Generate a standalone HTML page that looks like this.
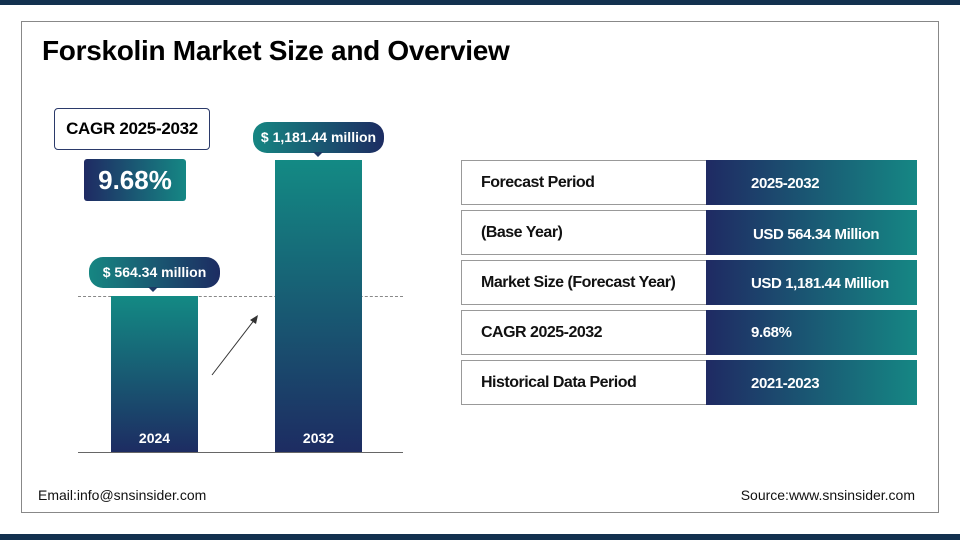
<!DOCTYPE html><html><head><style>
body{margin:0;width:960px;height:540px;background:#fff;position:relative;font-family:"Liberation Sans",sans-serif;overflow:hidden}
.a{position:absolute}
.g{background:linear-gradient(90deg,#1f2a63,#158784)}
.gv{background:linear-gradient(180deg,#138a84,#1d2c62)}
.pill{position:absolute;color:#fff;font-weight:bold;font-size:14px;text-align:center;border-radius:14px;background:linear-gradient(90deg,#168682,#1d2c62)}
.row{position:absolute;left:461px;width:456px;height:45px;border:1px solid #999;box-sizing:border-box}
.row .l{position:absolute;left:19px;top:13px;font-size:16px;font-weight:bold;color:#111;letter-spacing:-0.5px}
.row .r{position:absolute;left:244px;top:-1px;right:-1px;bottom:-1px;background:linear-gradient(90deg,#1f2a63,#158784);color:#fff;font-weight:bold;font-size:15px;letter-spacing:-0.4px}
</style></head><body>
<div class="a" style="left:0;top:0;width:960px;height:5px;background:#13314f"></div>
<div class="a" style="left:0;top:534px;width:960px;height:6px;background:#13314f"></div>
<div class="a" style="left:21px;top:21px;width:916px;height:490px;border:1px solid #888"></div>
<div class="a" style="left:42px;top:35px;font-size:28px;font-weight:bold;color:#000;letter-spacing:-0.3px">Forskolin Market Size and Overview</div>
<div class="a" style="left:54px;top:108px;width:156px;height:42px;border:1px solid #2b3a6a;border-radius:4px;box-sizing:border-box;font-size:17px;font-weight:bold;text-align:center;line-height:40px;letter-spacing:-0.3px">CAGR 2025-2032</div>
<div class="a g" style="left:84px;top:159px;width:102px;height:42px;border-radius:3px;color:#fff;font-size:26px;font-weight:bold;text-align:center;line-height:42px">9.68%</div>
<div class="a" style="left:78px;top:296px;width:325px;border-top:1px dashed #888"></div>
<div class="a gv" style="left:111px;top:296px;width:87px;height:156px"></div>
<div class="a gv" style="left:275px;top:160px;width:87px;height:292px"></div>
<div class="a" style="left:78px;top:452px;width:325px;border-top:1px solid #666"></div>
<div class="a" style="left:111px;top:430px;width:87px;text-align:center;color:#fff;font-weight:bold;font-size:14px">2024</div>
<div class="a" style="left:275px;top:430px;width:87px;text-align:center;color:#fff;font-weight:bold;font-size:14px">2032</div>
<div class="pill" style="left:89px;top:257px;width:131px;height:31px;line-height:31px">$ 564.34 million</div>
<div class="a" style="left:148px;top:287px;border:5px solid transparent;border-top-color:#1d3a66;border-bottom:0"></div>
<div class="pill" style="left:253px;top:122px;width:131px;height:31px;line-height:31px">$ 1,181.44 million</div>
<div class="a" style="left:313px;top:152px;border:5px solid transparent;border-top-color:#1d3a66;border-bottom:0"></div>
<svg class="a" style="left:200px;top:305px" width="70" height="80"><line x1="12" y1="70" x2="55" y2="14" stroke="#333" stroke-width="1"/><polygon points="58,10 50,15 56,19" fill="#333"/></svg>
<div class="row" style="top:160px"><div class="l">Forecast Period</div><div class="r"><span class="a" style="left:45px;top:15px">2025-2032</span></div></div>
<div class="row" style="top:210px"><div class="l">(Base Year)</div><div class="r"><span class="a" style="left:47px;top:16px">USD 564.34 Million</span></div></div>
<div class="row" style="top:260px"><div class="l">Market Size (Forecast Year)</div><div class="r"><span class="a" style="left:45px;top:15px">USD 1,181.44 Million</span></div></div>
<div class="row" style="top:310px"><div class="l">CAGR 2025-2032</div><div class="r"><span class="a" style="left:45px;top:14px">9.68%</span></div></div>
<div class="row" style="top:360px"><div class="l">Historical Data Period</div><div class="r"><span class="a" style="left:45px;top:15px">2021-2023</span></div></div>
<div class="a" style="left:38px;top:487px;font-size:14px;color:#111">Email:info@snsinsider.com</div>
<div class="a" style="right:45px;top:487px;font-size:14px;color:#111">Source:www.snsinsider.com</div>
</body></html>
